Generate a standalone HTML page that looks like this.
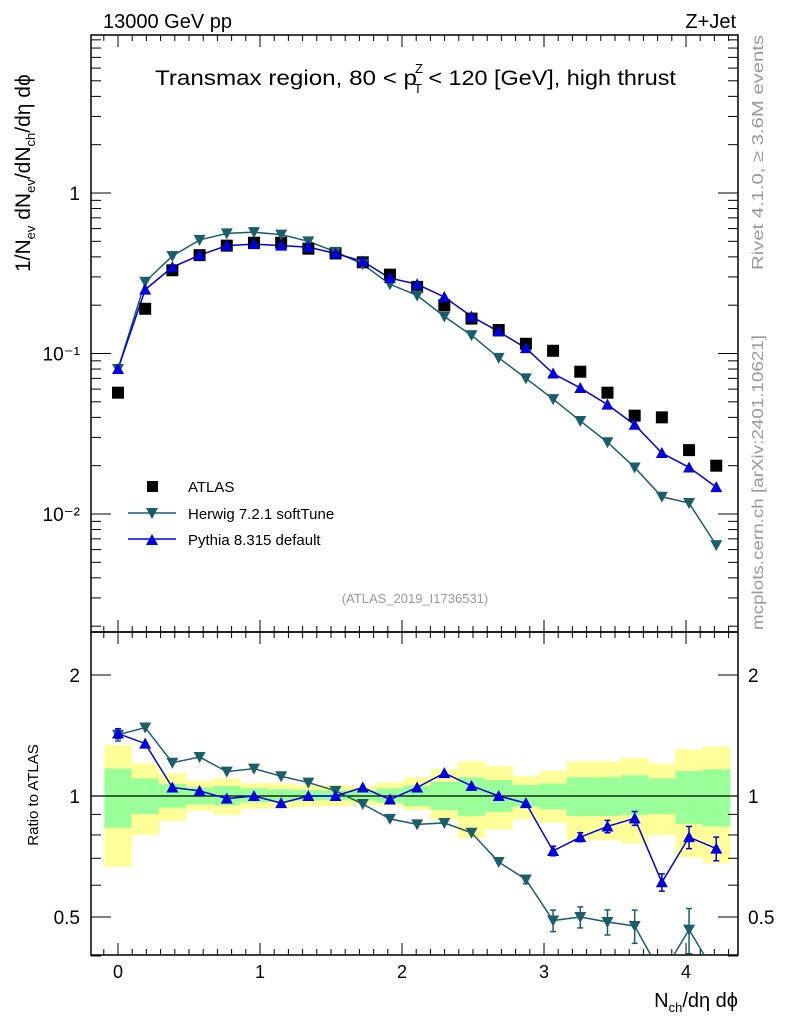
<!DOCTYPE html>
<html><head><meta charset="utf-8"><style>
body{margin:0;background:#fff;}
svg{display:block;font-family:"Liberation Sans",Arial,sans-serif;}
</style></head><body>
<svg id="c" width="786" height="1024" viewBox="0 0 786 1024" xmlns="http://www.w3.org/2000/svg">
<g id="bands"></g>
<g id="axes"></g>
<g id="series"></g>
<text x="103" y="28" font-size="20">13000 GeV pp</text>
<text x="736" y="28" font-size="20" text-anchor="end">Z+Jet</text>
<text x="155" y="85" font-size="21"><tspan textLength="262" lengthAdjust="spacingAndGlyphs">Transmax region, 80 &lt; p</tspan><tspan font-size="13" dy="-12" dx="-2">Z</tspan><tspan font-size="13" dy="20" dx="-9">T</tspan><tspan dy="-8" textLength="254" lengthAdjust="spacingAndGlyphs"> &lt; 120 [GeV], high thrust</tspan></text>
<text x="415" y="603" font-size="13" fill="#999" text-anchor="middle">(ATLAS_2019_I1736531)</text>
<text transform="translate(763,270) rotate(-90)" font-size="16" fill="#999" textLength="235" lengthAdjust="spacingAndGlyphs">Rivet 4.1.0, ≥ 3.6M events</text>
<text transform="translate(763,630) rotate(-90)" font-size="16" fill="#999" textLength="295" lengthAdjust="spacingAndGlyphs">mcplots.cern.ch [arXiv:2401.10621]</text>
<text transform="translate(30,272) rotate(-90)" font-size="21">1/N<tspan font-size="13" dy="5">ev</tspan><tspan dy="-5"> dN</tspan><tspan font-size="13" dy="5">ev</tspan><tspan dy="-5">/dN</tspan><tspan font-size="13" dy="5">ch</tspan><tspan dy="-5">/dη dϕ</tspan></text>
<text transform="translate(38,795) rotate(-90)" font-size="15" text-anchor="middle">Ratio to ATLAS</text>
<text x="738" y="1007" font-size="20" text-anchor="end">N<tspan font-size="13" dy="5">ch</tspan><tspan dy="-5">/dη dϕ</tspan></text>
<g>
<rect x="147" y="481" width="11" height="11" fill="#000"/>
<text x="188" y="492" font-size="15">ATLAS</text>
<line x1="128" y1="513" x2="176" y2="513" stroke="#1b5e6b" stroke-width="1.5"/>
<path d="M146,508 L158,508 L152,519 Z" fill="#1b5e6b"/>
<text x="188" y="519" font-size="15">Herwig 7.2.1 softTune</text>
<line x1="128" y1="539" x2="176" y2="539" stroke="#0000e0" stroke-width="1.5"/>
<path d="M146,545 L158,545 L152,534 Z" fill="#0000e0"/>
<text x="188" y="545" font-size="15">Pythia 8.315 default</text>
</g>
</svg>
<script>
const atlas=[0.057,0.19,0.33,0.41,0.47,0.49,0.49,0.45,0.42,0.37,0.31,0.26,0.20,0.165,0.14,0.115,0.104,0.077,0.057,0.041,0.040,0.025,0.020];
const herwig=[0.080,0.28,0.405,0.51,0.56,0.57,0.55,0.50,0.43,0.36,0.27,0.23,0.17,0.13,0.094,0.070,0.052,0.038,0.028,0.0195,0.0128,0.0117,0.0064];
const pythia=[0.080,0.25,0.345,0.41,0.47,0.48,0.47,0.46,0.42,0.375,0.295,0.27,0.225,0.17,0.137,0.108,0.075,0.061,0.048,0.036,0.024,0.0195,0.0147];
const herwigRatio=[1.42,1.48,1.21,1.25,1.15,1.17,1.12,1.08,1.03,0.955,0.877,0.85,0.857,0.81,0.685,0.62,0.49,0.50,0.486,0.475,0.35,0.465,0.30];
const pythiaRatio=[1.43,1.35,1.05,1.03,0.985,1.0,0.96,1.0,1.0,1.05,0.98,1.05,1.14,1.06,1.0,0.96,0.73,0.79,0.84,0.88,0.61,0.79,0.74];
const herwigErr=[0.05,0,0,0,0,0,0,0,0,0,0,0,0,0,0,0.015,0.03,0.03,0.035,0.045,0.05,0.06,0.05];
const pythiaErr=[0.04,0,0,0,0,0,0,0,0,0,0,0,0,0,0,0,0.02,0.02,0.03,0.035,0.03,0.05,0.05];
const yelUp=[1.34,1.205,1.14,1.09,1.106,1.075,1.075,1.065,1.063,1.059,1.08,1.113,1.165,1.22,1.187,1.121,1.154,1.22,1.22,1.245,1.205,1.306,1.326];
const yelLo=[0.667,0.80,0.867,0.918,0.897,0.93,0.932,0.94,0.944,0.95,0.946,0.923,0.872,0.785,0.826,0.875,0.858,0.777,0.777,0.763,0.80,0.704,0.68];
const grnUp=[1.17,1.106,1.071,1.05,1.059,1.045,1.039,1.035,1.031,1.031,1.045,1.059,1.085,1.113,1.096,1.065,1.075,1.113,1.113,1.126,1.106,1.154,1.165];
const grnLo=[0.834,0.902,0.935,0.953,0.948,0.964,0.968,0.974,0.977,0.974,0.962,0.944,0.923,0.892,0.912,0.94,0.927,0.892,0.892,0.897,0.902,0.852,0.839];
const xTicks=[0,1,2,3,4];
const mainTicks=[0.01,0.1,1];
const mainTickLabels=["10⁻²","10⁻¹","1"];
const ratioTicks=[0.5,1,2];
const ratioTickLabels=["0.5","1","2"];
const dx=0.1915;
const NS="http://www.w3.org/2000/svg";
const X0=91,X1=738,MT=35,MB=632,RT=632,RB=955;
const xs=v=>118+v*142;
const ym=v=>193-Math.log10(v)*160.5;
const yr=v=>796-Math.log10(v)*402;
function mk(p,t,a){const e=document.createElementNS(NS,t);for(const k in a)e.setAttribute(k,a[k]);p.appendChild(e);return e;}
const B=document.getElementById('bands'),A=document.getElementById('axes'),S=document.getElementById('series');
for(let i=0;i<yelUp.length;i++){
 const l=xs((i-0.5)*dx),r=xs((i+0.5)*dx);
 const y=mk(B,'rect',{x:l,y:yr(yelUp[i]),width:r-l+0.5,height:yr(yelLo[i])-yr(yelUp[i]),fill:'#ffff99'});
 
 
 const g=mk(B,'rect',{x:l,y:yr(grnUp[i]),width:r-l+0.5,height:yr(grnLo[i])-yr(grnUp[i]),fill:'#99ff99'});
 
 
}
mk(A,'line',{x1:X0,x2:X1,y1:yr(1),y2:yr(1),stroke:'#000','stroke-width':1.2});
const f1=mk(A,'rect',{x:X0,y:MT,width:X1-X0,height:MB-MT,fill:'none',stroke:'#000','stroke-width':1.5});


const f2=mk(A,'rect',{x:X0,y:RT,width:X1-X0,height:RB-RT,fill:'none',stroke:'#000','stroke-width':1.5});


for(let v=-0.2;v<=4.4;v+=0.1){const t=Math.round(v*10)/10;const x=xs(t);if(x<X0||x>X1)continue;const L=(Math.abs(t-Math.round(t))<0.01)?12:6;
 for(const [yt,yb] of [[MT,MB],[RT,RB]]){mk(A,'line',{x1:x,x2:x,y1:yb,y2:yb-L,stroke:'#000'});mk(A,'line',{x1:x,x2:x,y1:yt,y2:yt+L,stroke:'#000'});}}
xTicks.forEach(v=>{const t=mk(A,'text',{x:xs(v),y:978,'font-size':18,'text-anchor':'middle'});t.textContent=v;
 
 });
for(let d=-3;d<=0;d++)for(let m=1;m<10;m++){const v=m*Math.pow(10,d);const y=ym(v);if(y<MT||y>MB)continue;const L=m==1?20:10;
 mk(A,'line',{x1:X0,x2:X0+L,y1:y,y2:y,stroke:'#000'});mk(A,'line',{x1:X1,x2:X1-L,y1:y,y2:y,stroke:'#000'});}
mainTicks.forEach((v,i)=>{const t=mk(A,'text',{x:80,y:ym(v)+7,'font-size':19,'text-anchor':'end'});t.textContent=mainTickLabels[i];
 
 });
[0.4,0.5,0.6,0.7,0.8,0.9,1,2].forEach(v=>{const y=yr(v);const L=(v==0.5||v==1||v==2)?20:10;
 mk(A,'line',{x1:X0,x2:X0+L,y1:y,y2:y,stroke:'#000'});mk(A,'line',{x1:X1,x2:X1-L,y1:y,y2:y,stroke:'#000'});});
ratioTicks.forEach((v,i)=>{for(const [x,a] of [[80,'end'],[748,'start']]){const t=mk(A,'text',{x:x,y:yr(v)+7,'font-size':19,'text-anchor':a});t.textContent=ratioTickLabels[i];
 
 }});
function clipY(y,top,bot){return Math.max(top,Math.min(bot,y));}
function line(vals,yf,col,top,bot,name){const pts=vals.map((v,i)=>xs(i*dx)+','+clipY(yf(v),top,bot+20)).join(' ');
 const cp='url(#'+(top==MT?'cm':'cr')+')';
 const p=mk(S,'polyline',{points:pts,fill:'none',stroke:col,'stroke-width':1.5,'clip-path':cp});
 
 }
const defs=mk(document.getElementById('c'),'defs',{});
mk(mk(defs,'clipPath',{id:'cm'}),'rect',{x:X0,y:MT,width:X1-X0,height:MB-MT});
mk(mk(defs,'clipPath',{id:'cr'}),'rect',{x:X0,y:RT,width:X1-X0,height:RB-RT});
function tri(x,y,col,down,name,cp){const d=down?`M${x-6},${y-5} L${x+6},${y-5} L${x},${y+6} Z`:`M${x-6},${y+5} L${x+6},${y+5} L${x},${y-6} Z`;
 const p=mk(S,'path',{d:d,fill:col,'clip-path':cp});
 
 }
function errs(vals,es,col){vals.forEach((v,i)=>{if(!es[i])return;const x=xs(i*dx),a=yr(v+es[i]),b=yr(v-es[i]);
 const p=mk(S,'path',{d:`M${x},${a} L${x},${b} M${x-3},${a} L${x+3},${a} M${x-3},${b} L${x+3},${b}`,stroke:col,'stroke-width':1.5,fill:'none','clip-path':'url(#cr)'});
 
 });}
line(herwig,ym,'#1b5e6b',MT,MB,'herwig-line');
line(pythia,ym,'#0000e0',MT,MB,'pythia-line');
atlas.forEach((v,i)=>{const r=mk(S,'rect',{x:xs(i*dx)-6,y:ym(v)-6,width:12,height:12,fill:'#000'});
 
 });
herwig.forEach((v,i)=>tri(xs(i*dx),ym(v),'#1b5e6b',true,'herwig-point','url(#cm)'));
pythia.forEach((v,i)=>tri(xs(i*dx),ym(v),'#0000e0',false,'pythia-point','url(#cm)'));
line(herwigRatio,yr,'#1b5e6b',RT,RB,'herwig-ratio-line');
line(pythiaRatio,yr,'#0000e0',RT,RB,'pythia-ratio-line');
errs(herwigRatio,herwigErr,'#1b5e6b');
errs(pythiaRatio,pythiaErr,'#0000e0');
herwigRatio.forEach((v,i)=>tri(xs(i*dx),yr(v),'#1b5e6b',true,'herwig-ratio-point','url(#cr)'));
pythiaRatio.forEach((v,i)=>tri(xs(i*dx),yr(v),'#0000e0',false,'pythia-ratio-point','url(#cr)'));
</script>
</body></html>
